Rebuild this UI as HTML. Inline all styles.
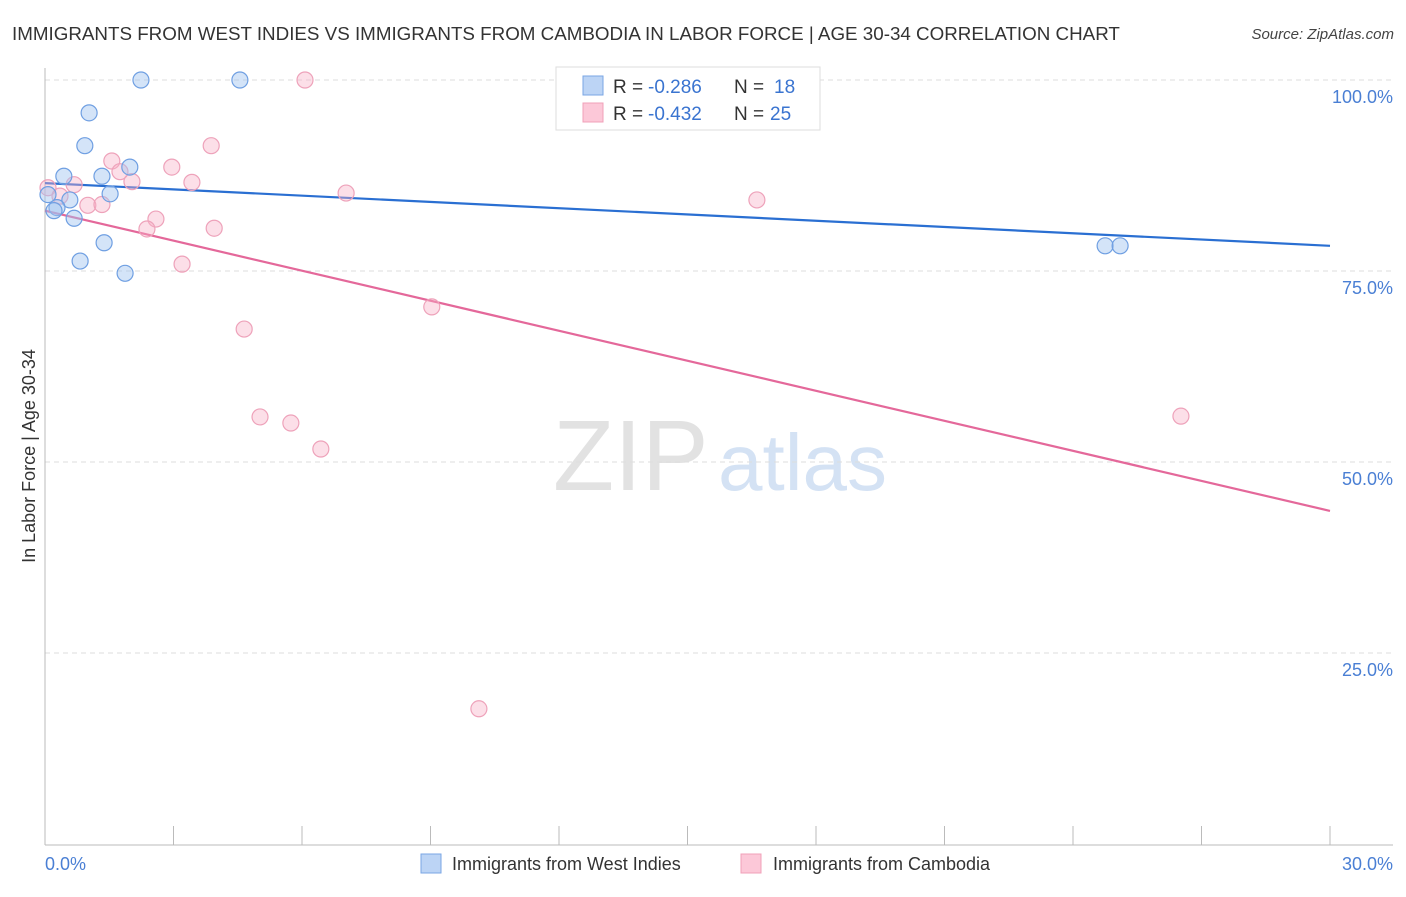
<!DOCTYPE html>
<html><head><meta charset="utf-8"><style>
body{margin:0;background:#fff;font-family:"Liberation Sans",sans-serif;}
svg text{font-family:"Liberation Sans",sans-serif;}
</style></head><body>
<svg width="1406" height="892" xmlns="http://www.w3.org/2000/svg">
<text x="12" y="40" font-size="18.8" fill="#333">IMMIGRANTS FROM WEST INDIES VS IMMIGRANTS FROM CAMBODIA IN LABOR FORCE | AGE 30-34 CORRELATION CHART</text>
<text x="1394" y="39" font-size="15" fill="#444" font-style="italic" text-anchor="end">Source: ZipAtlas.com</text>
<g>
<text x="553" y="490" font-size="100" font-family="Liberation Serif" fill="#e2e2e2">ZIP</text>
<text x="718" y="490" font-size="80" fill="#d4e2f4">atlas</text>
</g>
<g id="grid"></g>
<g id="axes"></g>
<g id="lines"></g>
<g id="pts"></g>
<text x="35" y="456" font-size="18" fill="#333" text-anchor="middle" transform="rotate(-90 35 456)">In Labor Force | Age 30-34</text>
<g>
<rect x="556" y="67" width="264" height="63" fill="#fff" stroke="#ddd"/>
<rect x="583" y="76" width="20" height="19" fill="#bcd4f5" stroke="#7aa6e4"/>
<rect x="583" y="103" width="20" height="19" fill="#fcc8d8" stroke="#f0a0b8"/>
<text x="613" y="93" font-size="19" fill="#333">R =</text>
<text x="648" y="93" font-size="19" fill="#3a74d0">-0.286</text>
<text x="734" y="93" font-size="19" fill="#333">N =</text>
<text x="774" y="93" font-size="19" fill="#3a74d0">18</text>
<text x="613" y="120" font-size="19" fill="#333">R =</text>
<text x="648" y="120" font-size="19" fill="#3a74d0">-0.432</text>
<text x="734" y="120" font-size="19" fill="#333">N =</text>
<text x="770" y="120" font-size="19" fill="#3a74d0">25</text>
</g>
<g>
<rect x="421" y="854" width="20" height="19" fill="#bcd4f5" stroke="#7aa6e4"/>
<text x="452" y="870" font-size="18" fill="#333">Immigrants from West Indies</text>
<rect x="741" y="854" width="20" height="19" fill="#fcc8d8" stroke="#f0a0b8"/>
<text x="773" y="870" font-size="18" fill="#333">Immigrants from Cambodia</text>
</g>
</svg>
<script>
const blueX=[2.24,4.55,1.03,0.93,1.98,0.44,1.33,1.52,0.58,0.28,0.21,0.68,1.38,0.82,1.87,24.75,25.1,0.07];
const blueY=[100,100,95.7,91.4,88.6,87.4,87.4,85.1,84.3,83.3,82.9,81.9,78.7,76.3,74.7,78.3,78.3,85.0];
const pinkX=[6.07,3.88,1.56,2.96,1.75,2.03,3.43,0.68,7.03,16.62,0.07,0.35,1.0,1.33,2.59,2.38,3.95,3.2,9.03,4.65,5.02,5.74,6.44,26.52,10.13];
const pinkY=[100,91.4,89.4,88.6,88.0,86.7,86.6,86.3,85.2,84.3,85.9,84.8,83.6,83.7,81.8,80.5,80.6,75.9,70.3,67.4,55.9,55.1,51.7,56.0,17.7];
const blueTrend=[86.5,78.3];
const pinkTrend=[82.9,43.6];
const trendX=[0,30];
const yTicks=[25,50,75,100];
const yTickLabels=["25.0%","50.0%","75.0%","100.0%"];
const xLabels=["0.0%","30.0%"];
const NS="http://www.w3.org/2000/svg";
const X=v=>45+v/30*1285;
const Y=v=>844-v/100*764;
function mk(tag,attrs,parent,txt){const e=document.createElementNS(NS,tag);for(const k in attrs)e.setAttribute(k,attrs[k]);if(txt!==undefined)e.textContent=txt;parent.appendChild(e);return e;}
const grid=document.getElementById('grid'),axes=document.getElementById('axes'),lines=document.getElementById('lines'),pts=document.getElementById('pts');
yTicks.forEach((t,i)=>{
 const l=mk('line',{x1:45,x2:1393,y1:Y(t),y2:Y(t),stroke:'#ddd','stroke-dasharray':'5,4'},grid);
 
 
 const tx=mk('text',{x:1393,y:Y(t)+23,'font-size':18,fill:'#4a7fd4','text-anchor':'end'},axes,yTickLabels[i]);
 
 
});
const ya=mk('line',{x1:45,x2:45,y1:68,y2:845,stroke:'#bbb'},axes);


const xa=mk('line',{x1:45,x2:1393,y1:845,y2:845,stroke:'#bbb'},axes);


for(let k=1;k<=10;k++){
 const tk=mk('line',{x1:X(k*3),x2:X(k*3),y1:826,y2:845,stroke:'#bbb'},axes);
 
 
}
const xl0=mk('text',{x:45,y:870,'font-size':18,fill:'#4a7fd4'},axes,xLabels[0]);


const xl1=mk('text',{x:1393,y:870,'font-size':18,fill:'#4a7fd4','text-anchor':'end'},axes,xLabels[1]);


function dots(xs,ys,fill,stroke,name){xs.forEach((v,i)=>{
 const c=mk('circle',{cx:X(v),cy:Y(ys[i]),r:8,fill:fill,stroke:stroke,'stroke-width':1.2},pts);
 
 
});}
dots(pinkX,pinkY,'rgba(248,176,198,0.4)','#eea2ba','point-cambodia');
dots(blueX,blueY,'rgba(160,196,240,0.45)','#6f9fe2','point-west-indies');
const bl=mk('line',{x1:X(trendX[0]),y1:Y(blueTrend[0]),x2:X(trendX[1]),y2:Y(blueTrend[1]),stroke:'#2a6fd2','stroke-width':2.2},lines);


const pl=mk('line',{x1:X(trendX[0]),y1:Y(pinkTrend[0]),x2:X(trendX[1]),y2:Y(pinkTrend[1]),stroke:'#e4689a','stroke-width':2.2},lines);


</script>
</body></html>
